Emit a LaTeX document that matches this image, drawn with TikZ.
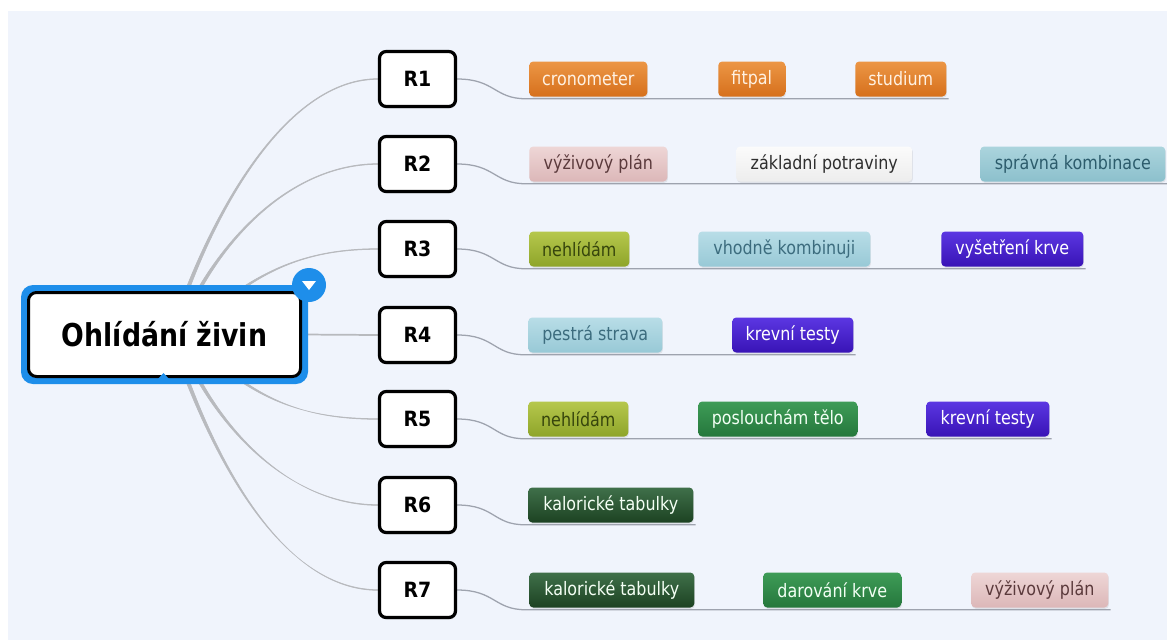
\documentclass[tikz,border=0pt]{standalone}
\usepackage{fontspec}
\usetikzlibrary{calc,backgrounds,shadows}

\newfontfamily\leaffont[FakeStretch=0.86]{DejaVu Sans}
\newfontfamily\rootfont[FakeStretch=0.85]{DejaVu Sans}
\newfontfamily\rfont[FakeStretch=0.9]{DejaVu Sans}

\definecolor{bgcol}{HTML}{F0F4FC}
\definecolor{rootblue}{HTML}{1E8EEA}
\definecolor{branchcol}{HTML}{B8BABE}
\definecolor{ulcol}{HTML}{9EA3AE}
% leaf palettes
\definecolor{orTop}{HTML}{EC9645}\definecolor{orBot}{HTML}{D6701C}\definecolor{orTxt}{HTML}{FFF1E2}
\definecolor{pkTop}{HTML}{EED6D6}\definecolor{pkBot}{HTML}{DCB7B8}\definecolor{pkTxt}{HTML}{5B3A3C}
\definecolor{whTop}{HTML}{FBFBFB}\definecolor{whBot}{HTML}{EDEDED}\definecolor{whTxt}{HTML}{2E2E2E}
\definecolor{tqTop}{HTML}{ABD4DD}\definecolor{tqBot}{HTML}{8CC0CC}\definecolor{tqTxt}{HTML}{2C5C6C}
\definecolor{olTop}{HTML}{B6C74C}\definecolor{olBot}{HTML}{8EA52A}\definecolor{olTxt}{HTML}{36450C}
\definecolor{lbTop}{HTML}{B8DDE7}\definecolor{lbBot}{HTML}{98C9D6}\definecolor{lbTxt}{HTML}{3C6C7E}
\definecolor{inTop}{HTML}{5C36E2}\definecolor{inBot}{HTML}{3814B6}\definecolor{inTxt}{HTML}{FFFFFF}
\definecolor{grTop}{HTML}{3E9C57}\definecolor{grBot}{HTML}{25773C}\definecolor{grTxt}{HTML}{F2FFF4}
\definecolor{dgTop}{HTML}{40704A}\definecolor{dgBot}{HTML}{1C4222}\definecolor{dgTxt}{HTML}{F4FFF4}

% tapered branch: start, control 1, control 2, end
\newcommand\branchcurve[4]{%
  \filldraw[branchcol, line width=0.45pt]
    ($(#1)+(-1.8,0)$) .. controls ($(#2)+(-1.0,0)$) and ($(#3)+(0,-0.3)$) .. ($(#4)+(0,-0.35)$)
    -- ($(#4)+(0,0.35)$) .. controls ($(#3)+(0,0.3)$) and ($(#2)+(1.0,0)$) .. ($(#1)+(1.8,0)$) -- cycle;}

\begin{document}
\begin{tikzpicture}[x=0.75pt, y=-0.75pt,
  rbox/.style={draw=black, line width=2.4pt, fill=white, rounded corners=5pt,
    minimum width=76*0.75pt, minimum height=55*0.75pt, inner sep=0pt,
    font=\rfont\bfseries\fontsize{15.75}{18}\selectfont,
    drop shadow={opacity=0.18, shadow xshift=0.8pt, shadow yshift=-1.5pt}},
  rootbox/.style={draw=black, line width=2.25pt, fill=white, rounded corners=6pt,
    minimum width=272*0.75pt, minimum height=84*0.75pt, inner sep=0pt,
    font=\rootfont\bfseries\fontsize{23.6}{28}\selectfont},
  leaf/.style={anchor=west, rounded corners=3pt, minimum height=35*0.75pt, inner sep=0pt,
    font=\leaffont\fontsize{13.9}{16}\selectfont,
    drop shadow={opacity=0.15, shadow xshift=0.5pt, shadow yshift=-1pt}},
  lw/.style={minimum width=#1*0.75pt},
  orange/.style={top color=orTop, bottom color=orBot, text=orTxt},
  pink/.style={top color=pkTop, bottom color=pkBot, text=pkTxt},
  pale/.style={top color=whTop, bottom color=whBot, text=whTxt},
  teal/.style={top color=tqTop, bottom color=tqBot, text=tqTxt},
  olive/.style={top color=olTop, bottom color=olBot, text=olTxt},
  skyblue/.style={top color=lbTop, bottom color=lbBot, text=lbTxt},
  indigo/.style={top color=inTop, bottom color=inBot, text=inTxt},
  leafgreen/.style={top color=grTop, bottom color=grBot, text=grTxt},
  darkgreen/.style={top color=dgTop, bottom color=dgBot, text=dgTxt},
  uline/.style={draw=ulcol, line width=0.95pt},
]
\useasboundingbox (0,0) rectangle (1167,640);

% ---- root topic ----
\fill[rootblue, rounded corners=9pt] (21,285) rectangle (308,384);
\node[rootbox] (root) at (164.5,334.5) {Ohlídání živin};
\fill[rootblue] (157,380) -- (163.5,373) -- (170,380) -- cycle;
\node[circle, fill=rootblue, minimum size=34*0.75pt, inner sep=0pt] (fold) at (309,285) {};
\fill[white] ($(fold)+(-7,-4)$) -- ($(fold)+(7,-4)$) -- ($(fold)+(0,5)$) -- cycle;

% ---- main branches ----
\node[rbox] (r1) at (417.5,79) {R1};
\node[rbox] (r2) at (417.5,164) {R2};
\node[rbox] (r3) at (417.5,249) {R3};
\node[rbox] (r4) at (417.5,335) {R4};
\node[rbox] (r5) at (417.5,419) {R5};
\node[rbox] (r6) at (417.5,505) {R6};
\node[rbox] (r7) at (417.5,590) {R7};

% ---- leaves ----
\node[leaf, orange, lw=118] (a1) at (529,79) {cronometer};
\node[leaf, orange, lw=67]  (a2) at (718,79) {fitpal};
\node[leaf, orange, lw=91]  (a3) at (855,79) {studium};

\node[leaf, pink, lw=138]  (b1) at (529,164) {výživový plán};
\node[leaf, pale, lw=176]  (b2) at (736,164) {základní potraviny};
\node[leaf, teal, lw=185]  (b3) at (980,164) {správná kombinace};

\node[leaf, olive, lw=100]   (c1) at (529,249) {nehlídám};
\node[leaf, skyblue, lw=172] (c2) at (698,249) {vhodně kombinuji};
\node[leaf, indigo, lw=142]  (c3) at (941,249) {vyšetření krve};

\node[leaf, skyblue, lw=134] (d1) at (528,335) {pestrá strava};
\node[leaf, indigo, lw=121]  (d2) at (732,335) {krevní testy};

\node[leaf, olive, lw=100]     (e1) at (528,419) {nehlídám};
\node[leaf, leafgreen, lw=159] (e2) at (698,419) {poslouchám tělo};
\node[leaf, indigo, lw=123]    (e3) at (926,419) {krevní testy};

\node[leaf, darkgreen, lw=165] (f1) at (528,505) {kalorické tabulky};

\node[leaf, darkgreen, lw=165] (g1) at (529,590) {kalorické tabulky};
\node[leaf, leafgreen, lw=138] (g2) at (763,590) {darování krve};
\node[leaf, pink, lw=137]      (g3) at (971,590) {výživový plán};

% ---- connectors, behind everything ----
\begin{pgfonlayer}{background}
  \fill[white] (0,0) rectangle (1167,640);
  \fill[bgcol] (8,11) rectangle (1167,640);

  \coordinate (s1) at (188,288);
  \coordinate (s2) at (200,288);
  \coordinate (s3) at (243,288);
  \coordinate (s5) at (243,382);
  \coordinate (s6) at (200,382);
  \coordinate (s7) at (188,382);

  \branchcurve{s1}{224,195}{292,79}{r1.west}
  \branchcurve{s2}{238,222}{302,164}{r2.west}
  \branchcurve{s3}{282,262}{322,249}{r3.west}
  \draw[branchcol, line width=1.3pt] (root.east) -- (r4.west);
  \branchcurve{s5}{282,408}{322,419}{r5.west}
  \branchcurve{s6}{238,448}{302,505}{r6.west}
  \branchcurve{s7}{222,470}{286,590}{r7.west}

  % underlines joining each main branch to its leaves
  \draw[uline] (r1.east) .. controls +(38,0) and +(-32,0) .. ($(a1.south west)+(-3,2)$) -- ($(a3.south east)+(2,2)$);
  \draw[uline] (r2.east) .. controls +(38,0) and +(-32,0) .. ($(b1.south west)+(-3,2)$) -- ($(b3.south east)+(2,2)$);
  \draw[uline] (r3.east) .. controls +(38,0) and +(-32,0) .. ($(c1.south west)+(-3,2)$) -- ($(c3.south east)+(2,2)$);
  \draw[uline] (r4.east) .. controls +(38,0) and +(-32,0) .. ($(d1.south west)+(-3,2)$) -- ($(d2.south east)+(2,2)$);
  \draw[uline] (r5.east) .. controls +(38,0) and +(-32,0) .. ($(e1.south west)+(-3,2)$) -- ($(e3.south east)+(2,2)$);
  \draw[uline] (r6.east) .. controls +(38,0) and +(-32,0) .. ($(f1.south west)+(-3,2)$) -- ($(f1.south east)+(2,2)$);
  \draw[uline] (r7.east) .. controls +(38,0) and +(-32,0) .. ($(g1.south west)+(-3,2)$) -- ($(g3.south east)+(2,2)$);
\end{pgfonlayer}
\end{tikzpicture}
\end{document}
